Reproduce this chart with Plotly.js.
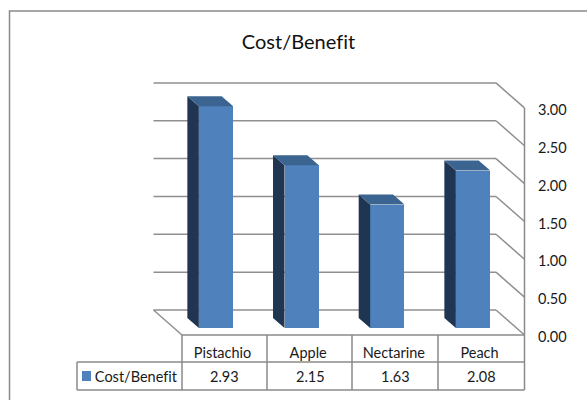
<!DOCTYPE html>
<html>
<head>
<meta charset="utf-8">
<script src="https://cdn.plot.ly/plotly-3.0.1.min.js"></script>
<style>
html,body{margin:0;padding:0;background:#fff;overflow:hidden}
#chart{width:587px;height:400px}
#chart text{font-variant-ligatures:none;font-feature-settings:"liga" 0}
</style>
</head>
<body>
<div id="chart"></div>
<script>
const categories = ["Pistachio", "Apple", "Nectarine", "Peach"];
const costBenefit = [2.93, 2.15, 1.63, 2.08];
const valueTicks = [0, 0.5, 1, 1.5, 2, 2.5, 3];
const seriesName = "Cost/Benefit";

const W = 587, H = 400;
// Linear pixel scale shared by the data axes.
const PX_PER_CAT = 85.67, PX_PER_UNIT = 75.7, X0 = 216, Y0 = 335;
const dx = px => px / PX_PER_CAT;
const dy = px => px / PX_PER_UNIT;
const xAt = px => (px - X0) / PX_PER_CAT;
const yAt = px => (Y0 - px) / PX_PER_UNIT;
const indices = categories.map((_, i) => i);

// Oblique projection: bar depth, bar plane and back wall offsets.
const barWidth = dx(34.3), barBase = dy(7);
const depthX = dx(11.5), depthY = dy(10);
const wallX = dx(28.5), wallY = dy(25);
const axisRight = xAt(524.5), axisLeft = xAt(182);
// Table columns sit right of the bar fronts.
const columnShift = 8.5, headerShift = 6.5;

function faceTrace(color, polygon) {
  const xs = [], ys = [];
  costBenefit.forEach((v, i) => {
    polygon(i, v).forEach(p => { xs.push(p[0]); ys.push(p[1]); });
    xs.push(null); ys.push(null);
  });
  return {type: "scatter", mode: "lines", x: xs, y: ys, fill: "toself", fillcolor: color,
          line: {width: 0, color: color}, hoverinfo: "skip"};
}

const sideFaces = faceTrace("#1f3552", (i, v) => {
  const l = i - barWidth / 2, t = v + barBase;
  return [[l, barBase], [l, t], [l - depthX, t + depthY], [l - depthX, barBase + depthY], [l, barBase]];
});
const topFaces = faceTrace("#3b6590", (i, v) => {
  const l = i - barWidth / 2, r = i + barWidth / 2, t = v + barBase;
  return [[l, t], [l - depthX, t + depthY], [r - depthX, t + depthY], [r, t], [l, t]];
});
const frontFaces = {
  type: "bar", x: indices, y: costBenefit, base: barBase, width: barWidth,
  marker: {color: "#4f81bd", line: {width: 0}}, hoverinfo: "skip"
};

const lineStyle = {color: "#8a8a8a", width: 1.5};
const gridStyle = {color: "#8f8f8f", width: 1.5};
const dataLine = (x0, y0, x1, y1, line) => ({type: "line", xref: "x", yref: "y",
  x0, y0, x1, y1, line, layer: "below"});
const seg = (x0, y0, x1, y1) => dataLine(xAt(x0), yAt(y0), xAt(x1), yAt(y1), lineStyle);

// Wall gridlines run across the back, then slant forward to the value axis.
const gridShapes = valueTicks.flatMap(v => [
  dataLine(axisLeft - wallX, v + wallY, axisRight - wallX, v + wallY, gridStyle),
  dataLine(axisRight - wallX, v + wallY, axisRight, v, gridStyle)
]);
gridShapes.push(dataLine(axisLeft - wallX, wallY, axisLeft, 0, gridStyle));

// Data table under the plot, plus the outer chart border.
const columnEdges = [182, 267, 352, 438, 524.5];
const shapes = [
  {type: "rect", xref: "paper", yref: "paper", x0: 9.5 / W, x1: 1.02, y0: 1 - 11 / H, y1: -0.02,
   line: {color: "#8a8a8a", width: 1.5}, fillcolor: "rgba(0,0,0,0)", layer: "below"},
  ...gridShapes,
  seg(182, 335, 524.5, 335), seg(524.5, 108, 524.5, 335),
  seg(77, 362, 524.5, 362), seg(77, 390, 524.5, 390), seg(77, 362, 77, 390),
  ...columnEdges.map(x => seg(x, 335, x, 390)),
  {type: "rect", xref: "x", yref: "y", x0: xAt(82), x1: xAt(91), y0: yAt(371), y1: yAt(381),
   fillcolor: "#4f81bd", line: {width: 0}}
];

const tableFont = {family: "Lato, Carlito, sans-serif", size: 14.5, color: "#1a1a1a"};
const annotations = [
  ...costBenefit.map((v, i) => ({x: i, y: yAt(376.5), xref: "x", yref: "y", text: v.toFixed(2),
    xshift: columnShift, showarrow: false, font: tableFont, xanchor: "center", yanchor: "middle"})),
  {x: xAt(93), y: yAt(376), xref: "x", yref: "y", text: seriesName, showarrow: false,
   font: tableFont, xanchor: "left", yanchor: "middle"}
];

const layout = {
  width: W, height: H,
  margin: {l: 0, r: 0, t: 0, b: 0, pad: 0},
  paper_bgcolor: "#fff", plot_bgcolor: "#fff",
  showlegend: false, bargap: 0,
  title: {text: seriesName, x: 298.5 / W, xanchor: "center", y: 1 - 42 / H, yanchor: "middle",
          font: {family: "Lato, Carlito, sans-serif", size: 20, color: "#111"}},
  xaxis: {range: [xAt(0), xAt(W)], showgrid: false, zeroline: false, showline: false, ticks: "",
          tickmode: "array", tickvals: indices.map(i => i + dx(headerShift)), ticktext: categories,
          tickfont: tableFont,
          anchor: "free", position: 1 - 342 / H, side: "bottom", automargin: false, fixedrange: true},
  yaxis: {range: [yAt(H), yAt(0)], showgrid: false, zeroline: false, showline: false, ticks: "",
          tickmode: "array", tickvals: valueTicks, tickformat: ".2f", tickfont: tableFont,
          ticklabelshift: 2,
          anchor: "free", position: 537 / W, side: "right", automargin: false, fixedrange: true},
  shapes, annotations
};

Plotly.newPlot("chart", [frontFaces, sideFaces, topFaces], layout,
  {displayModeBar: false, staticPlot: true});
</script>
</body>
</html>
